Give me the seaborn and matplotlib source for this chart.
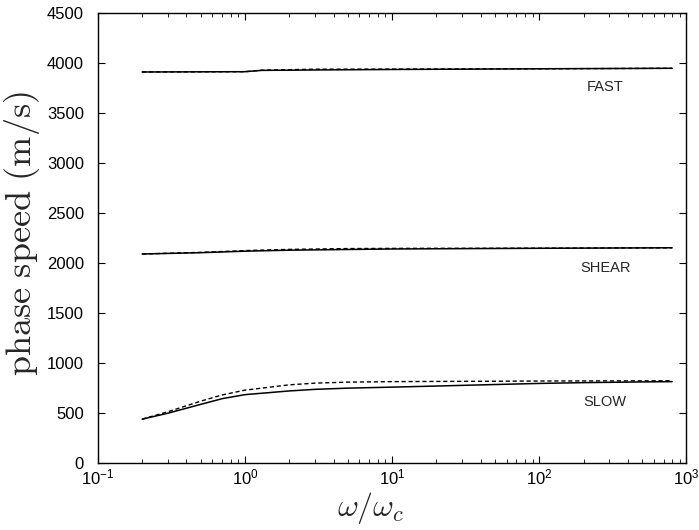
import matplotlib
matplotlib.use("Agg")
import matplotlib.pyplot as plt
import seaborn as sns
from matplotlib.ticker import LogLocator, NullFormatter

# Normalised frequency and phase speeds (m/s) for the three wave modes
fast_freq = [0.2, 1, 1.3, 3, 10, 100, 800]
fast_solid = [3908, 3911, 3924, 3928, 3933, 3940, 3945]
fast_dashed = [3908, 3911, 3926, 3936, 3937, 3940, 3945]

shear_freq = [0.2, 0.5, 1, 2, 5, 10, 100, 800]
shear_solid = [2090, 2103, 2118, 2128, 2135, 2140, 2147, 2152]
shear_dashed = [2090, 2106, 2124, 2136, 2144, 2146, 2148, 2152]

slow_freq = [0.2, 0.3, 0.5, 0.7, 1, 2, 3, 5, 10, 20, 50, 100, 200, 500, 800]
slow_solid = [440, 500, 588, 645, 685, 722, 738, 750, 760, 771, 786, 797, 805, 812, 815]
slow_dashed = [440, 515, 620, 682, 730, 783, 800, 810, 815, 817, 819, 821, 822, 823, 824]

mode_labels = ["FAST", "SHEAR", "SLOW"]
label_speeds = [3760, 1950, 610]
label_freq = 281

y_ticks = list(range(0, 4501, 500))

sns.set_style("ticks")
plt.rcParams["mathtext.fontset"] = "cm"
plt.rcParams["font.family"] = ["Liberation Sans", "DejaVu Sans"]

fig = plt.figure(figsize=(6.99, 5.30), dpi=100)
ax = fig.add_axes([0.140, 0.126, 0.842, 0.850])

curves = [
    (fast_freq, fast_solid, fast_dashed),
    (shear_freq, shear_solid, shear_dashed),
    (slow_freq, slow_solid, slow_dashed),
]
for freq, solid, dashed in curves:
    sns.lineplot(x=freq, y=solid, ax=ax, color="black", lw=1.1, estimator=None)
    sns.lineplot(x=freq, y=dashed, ax=ax, color="black", lw=1.0,
                 linestyle=(0, (3, 2)), estimator=None)

for name, speed in zip(mode_labels, label_speeds):
    ax.text(label_freq, speed, name, ha="center", va="center", fontsize=10.5)

ax.set_xscale("log")
ax.set_xlim(0.1, 1000)
ax.set_ylim(0, 4500)
ax.set_yticks(y_ticks)
ax.xaxis.set_minor_locator(LogLocator(base=10, subs=range(2, 10)))
ax.xaxis.set_minor_formatter(NullFormatter())

ax.tick_params(which="both", direction="in", top=True, right=True,
               colors="black", labelsize=12)
ax.tick_params(axis="y", which="major", pad=10)
ax.tick_params(axis="x", which="major", pad=3)
ax.tick_params(which="major", length=5, width=0.8)
ax.tick_params(which="minor", length=3, width=0.6)
for s in ax.spines.values():
    s.set_linewidth(1.0)
    s.set_color("black")

ax.set_xlabel(r"$\omega/\omega_c$", fontsize=23)
ax.xaxis.set_label_coords(0.463, -0.060)
ax.set_ylabel(r"$\mathrm{phase\ speed\ (m/s)}$", fontsize=26)
ax.yaxis.set_label_coords(-0.095, 0.509)

fig.savefig("out.png", dpi=100)
